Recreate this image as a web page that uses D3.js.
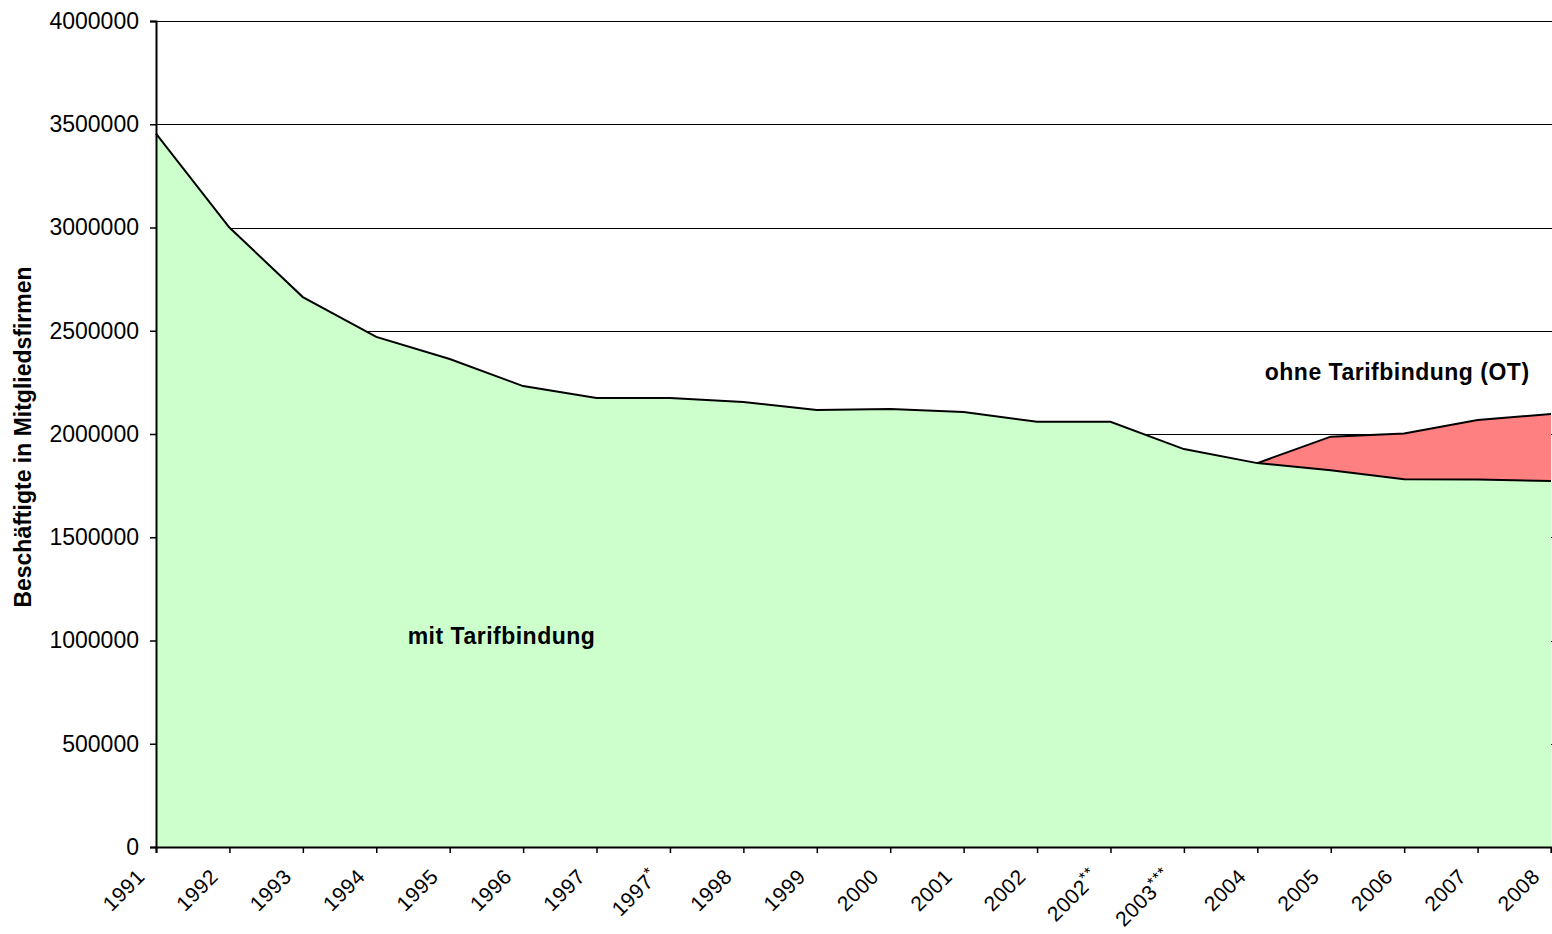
<!DOCTYPE html>
<html>
<head>
<meta charset="utf-8">
<script src="https://cdn.jsdelivr.net/npm/d3@7"></script>
<style>
  body { margin: 0; background: #fff; }
  text { font-family: Arial, "Liberation Sans", sans-serif; fill: #000; }
</style>
</head>
<body>
<div class="chart"></div>
<script>
const years = ['1991', '1992', '1993', '1994', '1995', '1996', '1997', '1997*', '1998', '1999',
  '2000', '2001', '2002', '2002**', '2003***', '2004', '2005', '2006', '2007', '2008'];

// Beschäftigte in Firmen mit Tarifbindung
const mitTarif = [3455000, 3000000, 2663000, 2470000, 2363000, 2232000, 2174000, 2174000, 2155000, 2116000,
  2121000, 2106000, 2059000, 2059000, 1927000, 1859000, 1825000, 1781000, 1780000, 1772000];

// ohne Tarifbindung (OT), erst ab 2004
const ohneTarif = [null, null, null, null, null, null, null, null, null, null,
  null, null, null, null, null, 0, 162000, 222000, 288000, 325000];

const yTicks = [0, 500000, 1000000, 1500000, 2000000, 2500000, 3000000, 3500000, 4000000];

const FULL_WIDTH = 1552;
const FULL_HEIGHT = 934;
const margin = { top: 21, right: 1, bottom: 87, left: 156 };
const width = FULL_WIDTH - margin.left - margin.right;
const height = FULL_HEIGHT - margin.top - margin.bottom;

const rows = years.map((y, i) => ({ year: y, mit: mitTarif[i], ohne: ohneTarif[i] }));

const root = d3.select('.chart')
  .append('svg')
    .attr('width', FULL_WIDTH)
    .attr('height', FULL_HEIGHT);

const svg = root.append('g')
    .attr('transform', `translate(${margin.left}, ${margin.top})`);

const xScale = d3.scalePoint()
  .domain(years)
  .range([0, width]);

const yScale = d3.scaleLinear()
  .domain([0, 4000000])
  .range([height, 0]);

// gridlines
svg.append('g')
  .selectAll('line')
  .data(yTicks.filter(d => d > 0))
  .join('line')
    .attr('x1', 0)
    .attr('x2', width + 1)
    .attr('y1', d => Math.round(yScale(d)) + 0.5)
    .attr('y2', d => Math.round(yScale(d)) + 0.5)
    .attr('stroke', '#000')
    .attr('stroke-width', 1);

// green area (mit Tarifbindung)
const areaMit = d3.area()
  .x(d => xScale(d.year))
  .y0(yScale(0))
  .y1(d => yScale(d.mit));

svg.append('path')
  .datum(rows)
  .attr('d', areaMit)
  .attr('fill', '#ccffcc');

// red area (OT), stacked on top
const areaOhne = d3.area()
  .defined(d => d.ohne != null)
  .x(d => xScale(d.year))
  .y0(d => yScale(d.mit))
  .y1(d => yScale(d.mit + d.ohne));

svg.append('path')
  .datum(rows)
  .attr('d', areaOhne)
  .attr('fill', '#ff8080');

const lineMit = d3.line()
  .x(d => xScale(d.year))
  .y(d => yScale(d.mit));

const lineOhne = d3.line()
  .defined(d => d.ohne != null)
  .x(d => xScale(d.year))
  .y(d => yScale(d.mit + d.ohne));

svg.append('path')
  .datum(rows)
  .attr('d', lineMit)
  .attr('fill', 'none')
  .attr('stroke', '#000')
  .attr('stroke-width', 2);

svg.append('path')
  .datum(rows)
  .attr('d', lineOhne)
  .attr('fill', 'none')
  .attr('stroke', '#000')
  .attr('stroke-width', 2);

// y axis
const yAxis = svg.append('g')
  .call(d3.axisLeft(yScale).tickValues(yTicks).tickFormat(d3.format('d')).tickSize(6).tickPadding(11));
yAxis.select('.domain').attr('stroke', '#000').attr('stroke-width', 2);
yAxis.selectAll('.tick line').attr('stroke-width', 1.5);
yAxis.selectAll('.tick text')
  .attr('font-size', 23)
  .attr('font-family', 'Arial, "Liberation Sans", sans-serif');

// x axis
const xAxis = svg.append('g')
  .attr('transform', `translate(0, ${height})`)
  .call(d3.axisBottom(xScale).tickSize(6).tickFormat(''));
xAxis.select('.domain').attr('stroke', '#000').attr('stroke-width', 2);
xAxis.selectAll('.tick line').attr('stroke-width', 1.5);

// rotated year labels, footnote stars raised
const xLabels = svg.append('g')
  .selectAll('text')
  .data(years)
  .join('text')
    .attr('transform', d => `translate(${xScale(d) - 10}, ${height + 31}) rotate(-45)`)
    .attr('text-anchor', 'end')
    .attr('font-size', 21)
    .attr('letter-spacing', 0.5);

xLabels.append('tspan')
  .text(d => d.replace(/\*/g, ''));

xLabels.filter(d => d.includes('*'))
  .append('tspan')
    .attr('font-size', 16)
    .attr('dy', -7)
    .attr('letter-spacing', 1)
    .text(d => d.replace(/[^*]/g, ''));

// axis title
root.append('text')
  .attr('transform', 'translate(31, 437) rotate(-90)')
  .attr('text-anchor', 'middle')
  .attr('font-size', 23)
  .attr('font-weight', 'bold')
  .text('Beschäftigte in Mitgliedsfirmen');

// area labels
svg.append('text')
  .attr('x', xScale('1997') - 95)
  .attr('y', yScale(1000000) + 3)
  .attr('text-anchor', 'middle')
  .attr('font-size', 23)
  .attr('font-weight', 'bold')
  .attr('letter-spacing', 0.5)
  .text('mit Tarifbindung');

svg.append('text')
  .attr('x', xScale('2006') - 7)
  .attr('y', yScale(2300000) + 8)
  .attr('text-anchor', 'middle')
  .attr('font-size', 23)
  .attr('font-weight', 'bold')
  .attr('letter-spacing', 0.5)
  .text('ohne Tarifbindung (OT)');
</script>
</body>
</html>
